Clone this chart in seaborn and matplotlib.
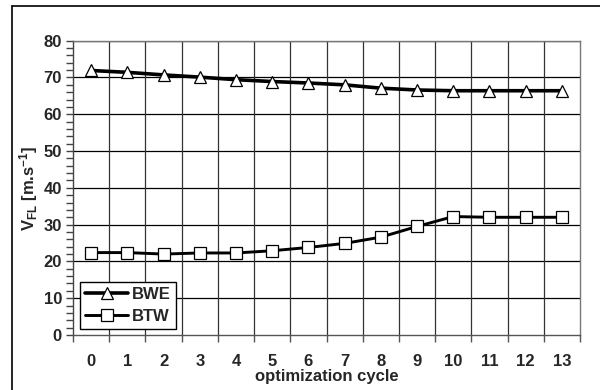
import matplotlib
matplotlib.use("Agg")
import matplotlib.pyplot as plt
import seaborn as sns
import pandas as pd
from matplotlib.ticker import MultipleLocator, FixedLocator, NullFormatter
from matplotlib.lines import Line2D

# optimization cycles and flutter speeds of the two configurations
cycles = list(range(14))
bwe = [71.9, 71.4, 70.7, 70.1, 69.4, 68.9, 68.5, 68.0, 67.1, 66.6, 66.4, 66.4, 66.4, 66.4]
btw = [22.4, 22.4, 22.0, 22.3, 22.3, 22.9, 23.8, 24.9, 26.6, 29.5, 32.2, 32.0, 32.0, 32.0]
series_names = ["BWE", "BTW"]
y_ticks = list(range(0, 81, 10))

sns.set_style("white")
plt.rcParams["font.family"] = ["Liberation Sans", "DejaVu Sans"]
plt.rcParams["font.weight"] = "bold"
plt.rcParams["mathtext.fontset"] = "custom"
plt.rcParams["mathtext.rm"] = "Liberation Sans:bold"
plt.rcParams["mathtext.it"] = "Liberation Sans:bold"
plt.rcParams["mathtext.bf"] = "Liberation Sans:bold"

FS = 12

df = pd.DataFrame({
    "cycle": cycles * 2,
    "v": bwe + btw,
    "series": [series_names[0]] * len(cycles) + [series_names[1]] * len(cycles),
})

W, H = 600, 390
fig = plt.figure(figsize=(W / 100, H / 100), dpi=100)
ax = fig.add_axes([73 / W, 55 / H, 507 / W, 294.3 / H])

# outer chart frame (left and top edges visible)
fig.add_artist(Line2D([12 / W, 12 / W], [0, 1 - 6 / H], transform=fig.transFigure,
                      color="black", lw=1.2))
fig.add_artist(Line2D([12 / W, 1], [1 - 6 / H, 1 - 6 / H], transform=fig.transFigure,
                      color="black", lw=1.2))

sns.lineplot(data=df[df.series == "BWE"], x="cycle", y="v", ax=ax, color="black",
             lw=2.6, marker="^", markersize=8.5, markerfacecolor="white",
             markeredgecolor="black", markeredgewidth=0.9, label="BWE", zorder=3)
sns.lineplot(data=df[df.series == "BTW"], x="cycle", y="v", ax=ax, color="black",
             lw=2.1, marker="s", markersize=8, markerfacecolor="white",
             markeredgecolor="black", markeredgewidth=0.9, label="BTW", zorder=3)

ax.set_xlim(-0.5, 13.5)
ax.set_ylim(0, 80)

# category axis: labels at centres, ticks and gridlines at boundaries
ax.xaxis.set_major_locator(FixedLocator(cycles))
ax.set_xticklabels([str(c) for c in cycles], fontsize=FS, fontweight="bold")
ax.xaxis.set_minor_locator(FixedLocator([c + 0.5 for c in [-1] + cycles]))
ax.tick_params(axis="x", which="major", length=0, pad=14)
ax.tick_params(axis="x", which="minor", length=5, width=1, color="#555555", direction="out",
               bottom=True)

ax.yaxis.set_major_locator(FixedLocator(y_ticks))
ax.yaxis.set_minor_locator(MultipleLocator(2))
ax.yaxis.set_minor_formatter(NullFormatter())
ax.set_yticklabels([str(t) for t in y_ticks], fontsize=FS, fontweight="bold")
ax.tick_params(axis="y", which="both", length=5, width=1, color="#444444", direction="out",
               left=True, pad=3)

ax.grid(False)
for t in y_ticks[1:]:
    ax.axhline(t, color="black", lw=0.9, zorder=1)
for b in [c + 0.5 for c in cycles[:-1]]:
    ax.axvline(b, color="#333333", lw=0.9, zorder=1)

for side in ["top", "right", "bottom", "left"]:
    ax.spines[side].set_visible(True)
    ax.spines[side].set_color("#777777")
    ax.spines[side].set_linewidth(1.0)
ax.spines["bottom"].set_color("#555555")
ax.spines["left"].set_color("#444444")

ax.set_xlabel("")
ax.set_ylabel("")
fig.text((73 + 507 / 2) / W, 1 - 376 / H, "optimization cycle", fontsize=FS,
         fontweight="bold", ha="center", va="center")
fig.text(29 / W, 1 - 188 / H, r"V$_{FL}$ [m.s$^{-1}$]", fontsize=FS,
         fontweight="bold", ha="center", va="center", rotation=90)

leg = ax.legend(loc="lower left", bbox_to_anchor=(0.014, 0.02), fontsize=FS,
                frameon=True, fancybox=False, edgecolor="black", framealpha=1,
                handlelength=2.6, handletextpad=0.2, borderpad=0.3, labelspacing=0.45,
                borderaxespad=0)
leg.get_frame().set_linewidth(1.0)
for txt in leg.get_texts():
    txt.set_fontweight("bold")

fig.savefig("out.png", dpi=100)
